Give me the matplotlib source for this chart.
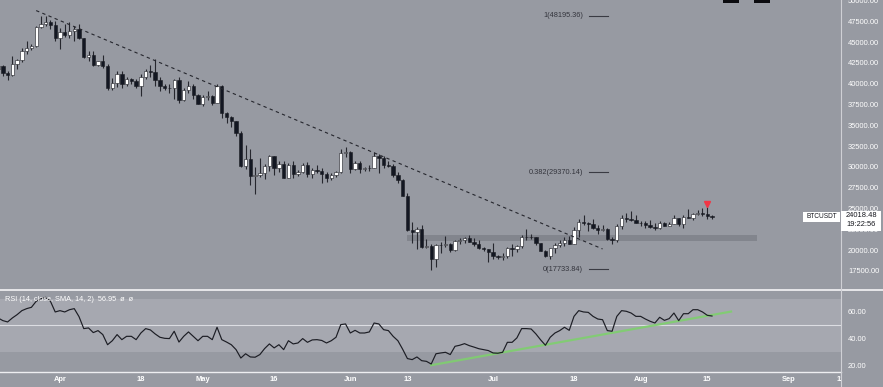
import matplotlib
matplotlib.use('Agg')
import matplotlib.pyplot as plt
import matplotlib.dates as mdates
import pandas as pd
from matplotlib.patches import Rectangle
from matplotlib.lines import Line2D

plt.rcParams['font.family'] = ['Liberation Sans', 'DejaVu Sans']

# daily BTCUSDT candles, 19 Mar - 16 Aug 2022
dates = pd.date_range('2022-03-19', '2022-08-16', freq='D')

opens = [41770, 42190, 41260, 41000, 42360, 42890, 43960, 44350, 44500, 46820, 47130, 47430, 47060,
         45510, 46280, 45810, 46400, 46580, 45490, 43170, 43440, 42250, 42750, 42150, 39520, 40070, 41150,
         39940, 40550, 40380, 39680, 40800, 41500, 41360, 40480, 39710, 39450, 39450, 40430, 38110, 39240,
         39740, 38600,
         37630, 38470, 38520, 37720, 39690, 36550, 36010, 35470, 34040, 30080, 31010, 28940, 29030, 29280,
         30070, 31300, 29860, 30420, 28680, 30290, 29180, 29430, 30280, 29100, 29650, 29540, 29200, 28620,
         29020, 29450, 31720,
         31790, 29800, 30450, 29700, 29860, 29900, 31370, 31130, 30200, 30100, 29090, 28420, 26570, 22480,
         22130, 22580, 20380, 20470, 19000, 20570, 20570, 20720, 19970, 21100, 21230, 21490, 21040, 20740,
         20280, 20100,
         19780, 19300, 19240, 19300, 20230, 20190, 20550, 21640, 21590, 21600, 20850, 19950, 19330, 20230,
         20590, 20830, 21200, 20780, 22430, 23400, 23220, 23150, 22680, 22450, 22580, 21310, 21250, 22950,
         23850, 23780, 23640,
         23300, 23270, 22980, 22820, 22620, 23310, 22950, 23170, 23810, 23150, 23950, 23930, 24400, 24440,
         24300, 24100]
highs = [42400, 42300, 41550, 43360, 43000, 44250, 45090, 44820, 46990, 48190, 48100, 47700, 47600,
         46720, 47210, 47440, 46890, 47200, 45510, 43900, 43970, 42800, 43430, 42420, 40700, 41560, 41500,
         40870, 40710, 40600, 41120, 41760, 42200, 42980, 40800, 39980, 39930, 40620, 40800, 39460, 40370,
         39920, 38800,
         38680, 39170, 38650, 40020, 39850, 36650, 36130, 35500, 34300, 32660, 32190, 30030, 31080, 30330,
         31470, 31300, 30780, 30670, 30540, 30770, 29600, 30480, 30660, 29830, 30220, 29870, 29360, 29250,
         29530, 32220, 32400,
         31980, 30680, 30700, 29950, 30200, 31770, 31560, 31330, 30700, 30400, 29450, 28540, 26900, 23360,
         22800, 22980, 21360, 20780, 20800, 21000, 21700, 20860, 21230, 21500, 21600, 21870, 21520, 21190,
         20430, 20170,
         20880, 19430, 19650, 20350, 20730, 20680, 21840, 22530, 21950, 21620, 20870, 20040, 20260, 20880,
         21200, 21600, 21690, 22790, 23800, 24280, 23440, 23760, 22990, 23010, 22670, 21560, 23110, 24200,
         24440, 24670, 24190,
         23510, 23460, 23650, 23220, 23460, 23350, 23390, 24240, 23930, 24230, 24920, 24460, 24890, 25050,
         25210, 24250]
lows = [41540, 40920, 40500, 40890, 41750, 42570, 43580, 44070, 44420, 46660, 46950, 46560, 45200,
        44200, 45620, 45520, 45120, 45350, 43120, 42730, 42110, 42130, 41870, 39200, 39250, 39590, 39550,
        39760, 40010, 39550, 38540, 40570, 40820, 39750, 39180, 39290, 38900, 38200, 37700, 37880, 38880,
        38180, 37580,
        37390, 38050, 37500, 37670, 35860, 35260, 34790, 33710, 30030, 29730, 27790, 26700, 28750, 28610,
        29480, 29090, 29450, 28650, 28670, 28730, 28940, 29230, 28850, 28630, 29290, 28020, 28200, 28450,
        28800, 29300, 31200,
        29300, 29580, 29250, 29460, 29500, 29880, 29220, 29850, 29950, 28850, 28100, 26560, 22300, 20850,
        20110, 20230, 20250, 17620, 17950, 19620, 20350, 19770, 19890, 20730, 20900, 20960, 20510, 20190,
        19850, 18630,
        18970, 19000, 18780, 19050, 19300, 19760, 20230, 21190, 21320, 20660, 19860, 19240, 18910, 19620,
        20380, 20480, 20760, 20770, 21580, 23010, 22340, 22500, 21940, 22250, 21250, 20710, 21040, 22580,
        23410, 23500, 23230,
        22850, 22650, 22690, 22430, 22590, 22930, 22850, 23150, 22880, 22660, 23860, 23580, 24290, 24130,
        23770, 23700]
closes = [42190, 41260, 41000, 42360, 42890, 43960, 44350, 44500, 46820, 47130, 47430, 47060, 45510,
          46280, 45810, 46400, 46580, 45490, 43170, 43440, 42250, 42750, 42150, 39520, 40070, 41150, 39940,
          40550, 40380, 39680, 40800, 41500, 41360, 40480, 39710, 39450, 39450, 40430, 38110, 39240, 39740,
          38600, 37630,
          38470, 38520, 37720, 39690, 36550, 36010, 35470, 34040, 30080, 31010, 28940, 29030, 29280, 30070,
          31300, 29860, 30420, 28680, 30290, 29180, 29430, 30280, 29100, 29650, 29540, 29200, 28620, 29020,
          29450, 31720, 31790,
          29800, 30450, 29700, 29860, 29900, 31370, 31130, 30200, 30100, 29090, 28420, 26570, 22480, 22130,
          22580, 20380, 20470, 19000, 20570, 20570, 20720, 19970, 21100, 21230, 21490, 21040, 20740, 20280,
          20100, 19780,
          19300, 19240, 19300, 20230, 20190, 20550, 21640, 21590, 21600, 20850, 19950, 19330, 20230, 20590,
          20830, 21200, 20780, 22430, 23400, 23220, 23150, 22680, 22450, 22580, 21310, 21250, 22950, 23850,
          23780, 23640, 23300,
          23270, 22980, 22820, 22620, 23310, 22950, 23170, 23810, 23150, 23950, 23930, 24400, 24440, 24300,
          24100, 24018.48]

rsi = [55.5, 53.5, 52.5, 55.5, 58, 61, 62.5, 63.5, 68, 70, 71, 68, 60,
       61, 60, 61.7, 62.5, 56.5, 47.5, 48, 44.5, 46, 43, 35.4, 38.4, 43, 39.2, 41.7, 41.7, 39.2, 44.2,
       47.5, 46.5, 43.5, 41, 40.2, 40, 45.5, 37.4, 41.7, 45, 41.7, 38.4,
       41.7, 41.7, 39.2, 48.5, 39.2, 37.4, 35.4, 31.7, 25.4, 28.6, 26.2, 26, 28, 32.5, 36, 33, 35.4,
       31.7, 38.4, 36, 36.7, 40, 37.2, 39, 39.2, 38.6, 36.7, 38.4, 41, 50.5, 51,
       44.2, 46.2, 44.2, 44.2, 45, 51.7, 51, 46.7, 46, 41.7, 38.4, 32, 25, 24.2, 26.2, 23.4, 22.9, 20.9,
       28.6, 29.2, 29.7, 28, 34.2, 35, 36.2, 34.7, 33.6, 32.4, 31.7, 31,
       29.2, 29, 29.7, 37.2, 37.2, 40.5, 47.5, 47.5, 47.2, 43.5, 39, 35, 41, 44.2, 46, 48.5, 46.2, 56.7,
       61, 60, 59.7, 56.7, 54.7, 54.2, 46, 45.5, 56.7, 61, 60.5, 59.2, 56.7,
       56.7, 54.7, 53, 51.7, 56, 53.7, 55, 59.2, 53.5, 58.7, 58.7, 61.7, 61.7, 60, 57.5, 56.95]

# drawings on the chart
trend_dates = ['2022-03-27', '2022-07-24']
trend_prices = [48800, 20150]
rsi_trend_dates = ['2022-06-18', '2022-08-20']
rsi_trend_vals = [20.0, 60.3]
fib_levels = [48195.36, 29370.14, 17733.84]
fib_labels = ['1(48195.36)', '0.382(29370.14)', '0(17733.84)']
zone_low, zone_high = 21150, 21830

tick_dates = ['2022-04-01', '2022-04-18', '2022-05-01', '2022-05-16', '2022-06-01', '2022-06-13',
              '2022-07-01', '2022-07-18', '2022-08-01', '2022-08-15', '2022-09-01', '2022-09-12']
tick_labels = ['Apr', '18', 'May', '16', 'Jun', '13', 'Jul', '18', 'Aug', '15', 'Sep', '12']

BG = '#979aa2'
BAND = '#a6a8b0'
DARK = '#15161d'
FS = 5.4
W, H = 883, 387


def fx(px):
    return px / W


def fy(py):
    return 1 - py / H


fig = plt.figure(figsize=(W / 100, H / 100), dpi=100, facecolor=BG)
ax = fig.add_axes([0, fy(290), fx(841), (290) / H])
ax2 = fig.add_axes([0, fy(372), fx(841), (372 - 290) / H])

x = mdates.date2num(dates)
x0 = mdates.date2num(pd.Timestamp('2022-03-19'))

for a in (ax, ax2):
    a.set_facecolor(BG)
    for s in a.spines.values():
        s.set_visible(False)
    a.set_xlim(x0 + 0.4, x0 + 177.1)

# candles
up = [c >= o for o, c in zip(opens, closes)]
body_bottom = [min(o, c) for o, c in zip(opens, closes)]
body_h = [abs(c - o) for o, c in zip(opens, closes)]
colors = ['#ffffff' if u else '#131722' for u in up]
ax.vlines(x, lows, highs, color='#26272e', lw=0.8, zorder=2)
ax.bar(x, body_h, bottom=body_bottom, width=0.7, color=colors, edgecolor='#1a1b22',
       linewidth=0.4, zorder=3)

# support zone
zx0 = mdates.date2num(pd.Timestamp('2022-06-12 22:00'))
zx1 = mdates.date2num(pd.Timestamp('2022-08-25 10:00'))
ax.add_patch(Rectangle((zx0, zone_low), zx1 - zx0, zone_high - zone_low,
                       facecolor='#5d6068', alpha=0.35, edgecolor='none', zorder=1))

# descending trend line
ax.plot(mdates.date2num(pd.to_datetime(trend_dates)), trend_prices, color='#25262d',
        lw=0.8, ls=(0, (3, 3)), zorder=4)

# fib levels
fl0 = mdates.date2num(pd.Timestamp('2022-07-21 02:00'))
fl1 = mdates.date2num(pd.Timestamp('2022-07-25 02:00'))
ft = mdates.date2num(pd.Timestamp('2022-07-19 22:00'))
for lvl, lab in zip(fib_levels, fib_labels):
    ax.plot([fl0, fl1], [lvl, lvl], color='#3a3b43', lw=0.8, zorder=4)
    ax.text(ft, lvl, lab, ha='right', va='center', fontsize=5.3, color='#34353d', zorder=4)

# sell signal marker
ax.plot(mdates.date2num(pd.Timestamp('2022-08-15')), 25550, marker='v', color='#f23645',
        markersize=4.5, zorder=5)

ax.set_ylim(15216, 50072)
ax.yaxis.tick_right()
ax.set_yticks(range(17500, 50001, 2500))
ax.set_yticklabels([f'{v:.2f}' for v in range(17500, 50001, 2500)])
ax.tick_params(axis='y', length=0, pad=5, labelsize=FS, labelcolor='#ffffff')
ax.tick_params(axis='x', bottom=False, labelbottom=False)

# RSI panel
ax2.axhspan(30, 70, color=BAND, zorder=0, lw=0)
ax2.axhline(50, color='#dcdde2', lw=0.8, zorder=1)
ax2.plot(x, rsi, color='#1c1d24', lw=0.85, zorder=3)
ax2.plot(mdates.date2num(pd.to_datetime(rsi_trend_dates)), rsi_trend_vals, color='#7fcf6e',
         lw=1.6, alpha=0.9, zorder=2)
ax2.set_ylim(14.9, 76.5)
ax2.yaxis.tick_right()
ax2.set_yticks([20, 40, 60])
ax2.set_yticklabels(['20.00', '40.00', '60.00'])
ax2.tick_params(axis='y', length=0, pad=5, labelsize=FS, labelcolor='#ffffff')
ax2.set_xticks(mdates.date2num(pd.to_datetime(tick_dates)))
ax2.set_xticklabels(tick_labels, fontweight='bold')
ax2.tick_params(axis='x', length=0, pad=3, labelsize=FS, labelcolor='#ffffff')
ax2.text(0.006, 0.88, 'RSI (14, close, SMA, 14, 2)  56.95  ø  ø', transform=ax2.transAxes,
         ha='left', va='center', fontsize=5.3, color='#ffffff', zorder=5)

# frame lines, price tag and overlays in pixel coordinates
fig.add_artist(Rectangle((fx(842), 0), 1 - fx(842), fy(373), transform=fig.transFigure,
                         facecolor=BG, edgecolor='none', zorder=5))
fig.add_artist(Line2D([0, 1], [fy(290), fy(290)], color='#f4f4f6', lw=1.2, zorder=6))
fig.add_artist(Line2D([0, fx(841)], [fy(372), fy(372)], color='#eeeef1', lw=1.0, zorder=6))
fig.add_artist(Line2D([fx(841), fx(841)], [0, 1], color='#cfd0d5', lw=0.8, zorder=6))

for left in (723, 754):
    fig.add_artist(Rectangle((fx(left), fy(2.5)), fx(16), 2.5 / H, transform=fig.transFigure,
                             facecolor='#0b0b0f', edgecolor='none', zorder=7))

fig.add_artist(Rectangle((fx(803), fy(222)), fx(37), 10 / H, transform=fig.transFigure,
                         facecolor='#ffffff', edgecolor='none', zorder=7))
fig.text(fx(821.5), fy(217), 'BTCUSDT', ha='center', va='center', fontsize=4.7, color=DARK, zorder=8)
fig.add_artist(Rectangle((fx(841), fy(230.5)), fx(40), 20 / H, transform=fig.transFigure,
                         facecolor='#ffffff', edgecolor='none', zorder=7))
fig.text(fx(861), fy(215.5), '24018.48', ha='center', va='center', fontsize=FS, color=DARK, zorder=8)
fig.text(fx(861), fy(225), '19:22:56', ha='center', va='center', fontsize=FS, color=DARK, zorder=8)

fig.savefig('out.png', dpi=100, facecolor=BG)
